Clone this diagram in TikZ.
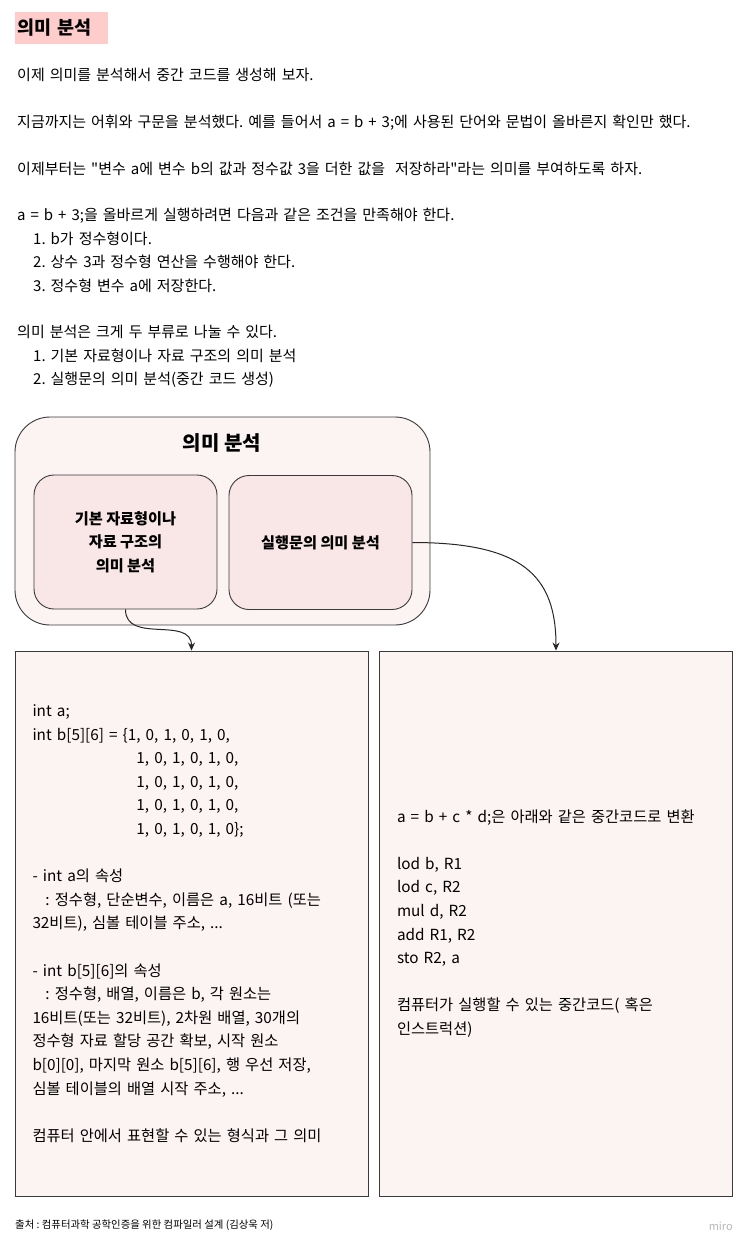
\documentclass[tikz,border=0pt]{standalone}
\usepackage{fontspec}
\setmainfont{Noto Sans CJK KR}[Ligatures=TeXOff]
\usetikzlibrary{arrows.meta}
\frenchspacing

\definecolor{hlpink}{HTML}{FFCCCC}
\definecolor{palerose}{HTML}{FCF3F3}
\definecolor{innerrose}{HTML}{F9E6E6}
\definecolor{edgegray}{HTML}{3A3A3A}
\definecolor{logogray}{HTML}{B8B8B8}

\tikzset{
  bodytext/.style={anchor=base west,inner sep=0pt,align=left,font=\fontsize{15}{23.4}\selectfont},
  groupbox/.style={draw=edgegray,line width=0.9pt,fill=palerose,rounded corners=35pt,
    minimum width=415pt,minimum height=208pt},
  kindbox/.style={draw=edgegray,line width=0.9pt,fill=innerrose,rounded corners=20pt,
    minimum width=183pt,minimum height=134pt,align=center,
    font=\bfseries\fontsize{15.2}{23.5}\selectfont},
  notebox/.style={draw=edgegray,line width=0.9pt,fill=palerose,
    minimum width=353pt,minimum height=545pt,text width=318pt,align=left,
    font=\fontsize{15.3}{23.6}\selectfont},
  flow/.style={->,draw=black!85,line width=1pt}
}

\begin{document}
\begin{tikzpicture}[x=1pt,y=-1pt,>={Stealth[length=8pt,width=7pt]}]
  \useasboundingbox (0,0) rectangle (750,1250);
  \fill[white] (0,0) rectangle (750,1250);

  % heading and intro
  \node[fill=hlpink,anchor=west,inner xsep=2pt,text width=89pt,minimum height=32pt,
    font=\bfseries\fontsize{18.5}{20}\selectfont] (heading) at (15,28) {의미 분석};
  \node[bodytext,text width=730pt] (intro) at (17,80.5) {%
    이제 의미를 분석해서 중간 코드를 생성해 보자.\\[23.4pt]
    지금까지는 어휘와 구문을 분석했다. 예를 들어서 a = b + 3;에 사용된 단어와 문법이 올바른지 확인만 했다.\\[23.4pt]
    이제부터는 "변수 a에 변수 b의 값과 정수값 3을 더한 값을~ 저장하라"라는 의미를 부여하도록 하자.\\[23.4pt]
    a = b + 3;을 올바르게 실행하려면 다음과 같은 조건을 만족해야 한다.\\
    \hspace*{16pt}1. b가 정수형이다.\\
    \hspace*{16pt}2. 상수 3과 정수형 연산을 수행해야 한다.\\
    \hspace*{16pt}3. 정수형 변수 a에 저장한다.\\[23.4pt]
    의미 분석은 크게 두 부류로 나눌 수 있다.\\
    \hspace*{16pt}1. 기본 자료형이나 자료 구조의 의미 분석\\
    \hspace*{16pt}2. 실행문의 의미 분석(중간 코드 생성)};

  % group of two kinds
  \node[groupbox] (sem) at (222.5,521) {};
  \node[font=\bfseries\fontsize{20}{22}\selectfont] (semtitle) at (222,443) {의미 분석};
  \node[kindbox] (basic) at (125.5,542) {기본 자료형이나\\자료 구조의\\의미 분석};
  \node[kindbox] (exec) at (320.5,542.5) {실행문의 의미 분석};

  % two notes
  \node[notebox] (declbox) at (191.5,923.5) {%
    int a;\\
    int b[5][6] = \{1, 0, 1, 0, 1, 0,\\
    \hspace*{104pt}1, 0, 1, 0, 1, 0,\\
    \hspace*{104pt}1, 0, 1, 0, 1, 0,\\
    \hspace*{104pt}1, 0, 1, 0, 1, 0,\\
    \hspace*{104pt}1, 0, 1, 0, 1, 0\};\\[23.6pt]
    - int a의 속성\\
    \hspace*{13pt}: 정수형, 단순변수, 이름은 a, 16비트 (또는\\
    32비트), 심볼 테이블 주소, ...\\[23.6pt]
    - int b[5][6]의 속성\\
    \hspace*{13pt}: 정수형, 배열, 이름은 b, 각 원소는\\
    16비트(또는 32비트), 2차원 배열, 30개의\\
    정수형 자료 할당 공간 확보, 시작 원소\\
    b[0][0], 마지막 원소 b[5][6], 행 우선 저장,\\
    심볼 테이블의 배열 시작 주소, ...\\[23.6pt]
    컴퓨터 안에서 표현할 수 있는 형식과 그 의미};
  \node[notebox] (codebox) at (556,923.5) {%
    a = b + c * d;은 아래와 같은 중간코드로 변환\\[23.6pt]
    lod b, R1\\
    lod c, R2\\
    mul d, R2\\
    add R1, R2\\
    sto R2, a\\[23.6pt]
    컴퓨터가 실행할 수 있는 중간코드( 혹은\\
    인스트럭션)};

  \draw[flow] (basic.south) .. controls +(0,35) and +(0,-35) .. (declbox.north);
  \draw[flow] (exec.east) .. controls +(110,0) and +(0,-75) .. (codebox.north);

  % source line
  \node[anchor=west,inner sep=0pt,font=\fontsize{10.4}{12}\selectfont] (source) at (15,1225)
    {출처 : 컴퓨터과학 공학인증을 위한 컴파일러 설계 (김상욱 저)};
  \node[anchor=east,inner sep=0pt,text=logogray,font=\fontsize{11}{12}\selectfont] (logo) at (733,1226) {miro};
\end{tikzpicture}
\end{document}
